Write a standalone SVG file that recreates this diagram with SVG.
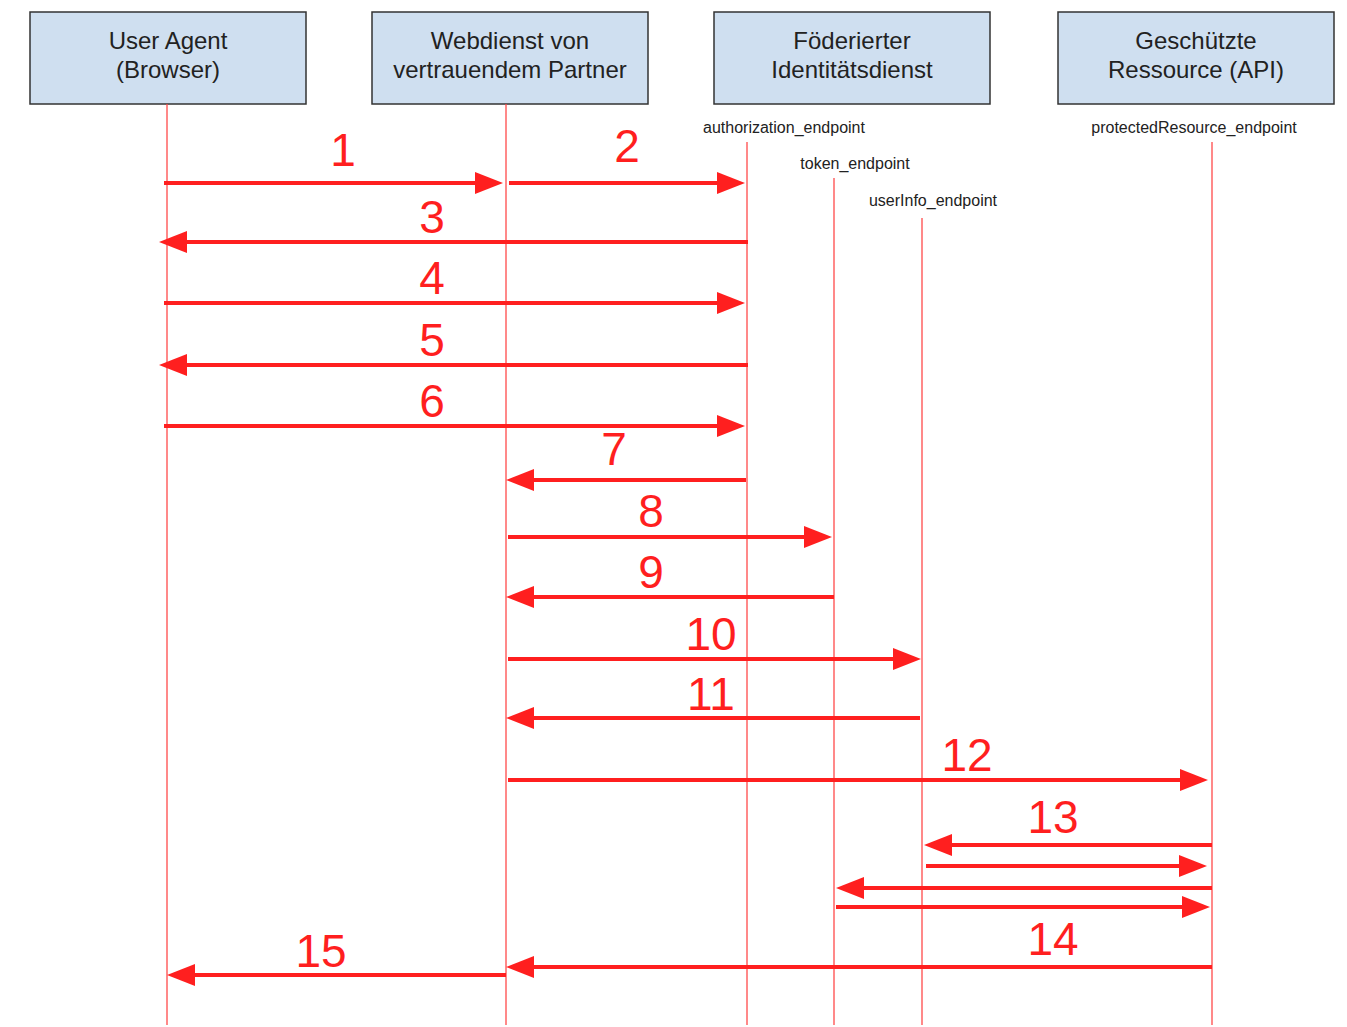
<svg xmlns="http://www.w3.org/2000/svg" width="1347" height="1027" viewBox="0 0 1347 1027">
<style>
.box{fill:#cfdff0;stroke:#333;stroke-width:1.5}
.nt{font-family:"Liberation Sans",Arial,sans-serif;font-size:24px;fill:#222;text-anchor:middle}
.ep{font-family:"Liberation Sans",Arial,sans-serif;font-size:16px;fill:#222;text-anchor:middle}
.life{stroke:#ff4a4a;stroke-width:1.3;fill:none}
.msg{stroke:#ff1f1f;stroke-width:4;fill:none;marker-end:url(#ah)}
.num{font-family:"Liberation Sans",Arial,sans-serif;font-size:46px;fill:#ff1f1f;text-anchor:middle}
</style>
<defs>
<marker id="ah" markerUnits="userSpaceOnUse" markerWidth="28" markerHeight="22" refX="2" refY="11" orient="auto" viewBox="0 0 28 22">
<path d="M0,0 L28,11 L0,22 z" fill="#ff1f1f"/>
</marker>
</defs>
<rect width="1347" height="1027" fill="#fff"/>
<g id="node-useragent">
<rect class="box" x="30" y="12" width="276" height="92"/>
<text class="nt" x="168" y="49">User Agent</text>
<text class="nt" x="168" y="78">(Browser)</text>
</g>
<g id="node-webdienst">
<rect class="box" x="372" y="12" width="276" height="92"/>
<text class="nt" x="510" y="49">Webdienst von</text>
<text class="nt" x="510" y="78">vertrauendem Partner</text>
</g>
<g id="node-idp">
<rect class="box" x="714" y="12" width="276" height="92"/>
<text class="nt" x="852" y="49">Föderierter</text>
<text class="nt" x="852" y="78">Identitätsdienst</text>
</g>
<g id="node-api">
<rect class="box" x="1058" y="12" width="276" height="92"/>
<text class="nt" x="1196" y="49">Geschützte</text>
<text class="nt" x="1196" y="78">Ressource (API)</text>
</g>
<g id="endpoints">
<text class="ep" x="784" y="133">authorization_endpoint</text>
<text class="ep" x="855" y="169">token_endpoint</text>
<text class="ep" x="933" y="206">userInfo_endpoint</text>
<text class="ep" x="1194" y="133">protectedResource_endpoint</text>
</g>
<g id="lifelines">
<line class="life" x1="167" y1="104" x2="167" y2="1025"/>
<line class="life" x1="506" y1="104" x2="506" y2="1025"/>
<line class="life" x1="747" y1="142" x2="747" y2="1025"/>
<line class="life" x1="834" y1="178" x2="834" y2="1025"/>
<line class="life" x1="922" y1="218" x2="922" y2="1025"/>
<line class="life" x1="1212" y1="142" x2="1212" y2="1025"/>
</g>
<g id="connectors">
<line class="msg" x1="164" y1="183" x2="477" y2="183"/>
<line class="msg" x1="509" y1="183" x2="719" y2="183"/>
<line class="msg" x1="748" y1="242" x2="185" y2="242"/>
<line class="msg" x1="164" y1="303" x2="719" y2="303"/>
<line class="msg" x1="748" y1="365" x2="185" y2="365"/>
<line class="msg" x1="164" y1="426" x2="719" y2="426"/>
<line class="msg" x1="746" y1="480" x2="532" y2="480"/>
<line class="msg" x1="508" y1="537" x2="806" y2="537"/>
<line class="msg" x1="834" y1="597" x2="532" y2="597"/>
<line class="msg" x1="508" y1="659" x2="895" y2="659"/>
<line class="msg" x1="920" y1="718" x2="532" y2="718"/>
<line class="msg" x1="508" y1="780" x2="1182" y2="780"/>
<line class="msg" x1="1212" y1="845" x2="950" y2="845"/>
<line class="msg" x1="926" y1="866" x2="1181" y2="866"/>
<line class="msg" x1="1212" y1="888" x2="862" y2="888"/>
<line class="msg" x1="836" y1="907" x2="1184" y2="907"/>
<line class="msg" x1="1212" y1="967" x2="532" y2="967"/>
<line class="msg" x1="506" y1="975" x2="193" y2="975"/>
</g>
<g id="labels">
<text class="num" x="343" y="166">1</text>
<text class="num" x="627" y="162">2</text>
<text class="num" x="432" y="233">3</text>
<text class="num" x="432" y="294">4</text>
<text class="num" x="432" y="356">5</text>
<text class="num" x="432" y="417">6</text>
<text class="num" x="614" y="465">7</text>
<text class="num" x="651" y="527">8</text>
<text class="num" x="651" y="588">9</text>
<text class="num" x="711" y="650">10</text>
<text class="num" x="711" y="710">11</text>
<text class="num" x="967" y="771">12</text>
<text class="num" x="1053" y="833">13</text>
<text class="num" x="1053" y="955">14</text>
<text class="num" x="321" y="967">15</text>
</g>
</svg>
